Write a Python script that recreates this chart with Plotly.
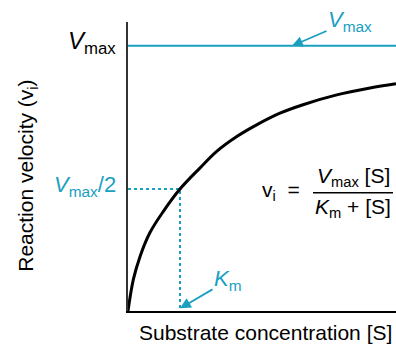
import plotly.graph_objects as go

# Curve (substrate concentration, relative velocity)
s_values = [0.0, 0.2, 0.45, 0.82, 1.32, 1.94, 2.69, 3.31, 4.06, 4.80, 5.67, 6.53, 7.79, 9.03, 10.0]
v_values = [0.0, 0.119, 0.206, 0.296, 0.376, 0.460, 0.540, 0.602, 0.658, 0.702, 0.746, 0.778, 0.815, 0.841, 0.857]

vmax = 1.0
half_v = 0.46
km = 1.94
x_range = [0, 10]
y_range = [0, 1.09]

TEAL = "#1a9fbf"
FONT = "Liberation Sans, Arial, sans-serif"

# plot area in page px: x 128..396, y 22..311.5
PL, PR, PT, PB = 128, 396, 22, 311.5


def px(x):
    return (x - PL) / (PR - PL)


def py(y):
    return (PB - y) / (PB - PT)


fig = go.Figure()

fig.add_trace(go.Scatter(x=x_range, y=[vmax, vmax], mode="lines",
                         line=dict(color=TEAL, width=2), hoverinfo="skip"))
fig.add_trace(go.Scatter(x=[0, km, km], y=[half_v, half_v, 0], mode="lines",
                         line=dict(color=TEAL, width=2, dash="dot"), hoverinfo="skip"))
fig.add_trace(go.Scatter(x=s_values, y=v_values, mode="lines",
                         line=dict(color="black", width=3, shape="spline"), hoverinfo="skip"))

annotations = [
    dict(x=px(118), y=py(46), xref="paper", yref="paper", xanchor="right", yanchor="middle", yshift=3,
         text="<i>V</i><sub>max</sub>", showarrow=False, font=dict(size=24, color="black")),
    dict(x=px(118), y=py(189), xref="paper", yref="paper", xanchor="right", yanchor="middle", yshift=3,
         text="<i>V</i><sub>max</sub>/2", showarrow=False, font=dict(size=22, color=TEAL)),
    dict(x=6.12, y=vmax, xref="x", yref="y", ax=58, ay=-25, text="<i>V</i><sub>max</sub>",
         showarrow=True, arrowhead=2, arrowsize=1.2, arrowwidth=1.8, arrowcolor=TEAL,
         font=dict(size=22, color=TEAL)),
    dict(x=km, y=0.01, xref="x", yref="y", ax=48, ay=-28, text="<i>K</i><sub>m</sub>",
         showarrow=True, arrowhead=2, arrowsize=1.2, arrowwidth=1.8, arrowcolor=TEAL,
         font=dict(size=22, color=TEAL)),
    dict(x=px(302), y=py(193), xref="paper", yref="paper",
         xanchor="right", yanchor="middle", showarrow=False, yshift=2,
         text="v<sub>i</sub>  =", font=dict(size=21, color="black")),
    dict(x=px(353), y=py(177), xref="paper", yref="paper",
         xanchor="center", yanchor="middle", showarrow=False,
         text="<i>V</i><sub>max</sub> [S]", font=dict(size=21, color="black")),
    dict(x=px(353), y=py(208), xref="paper", yref="paper",
         xanchor="center", yanchor="middle", showarrow=False,
         text="<i>K</i><sub>m</sub> + [S]", font=dict(size=21, color="black")),
    dict(x=px(265), y=py(333), xref="paper", yref="paper",
         xanchor="center", yanchor="middle", showarrow=False,
         text="Substrate concentration [S]", font=dict(size=21, color="black")),
    dict(x=px(27), y=py(176), xref="paper", yref="paper",
         xanchor="center", yanchor="middle", showarrow=False, textangle=-90,
         text="Reaction velocity (v<sub>i</sub>)", font=dict(size=21, color="black")),
]

fig.update_layout(
    width=396, height=348,
    margin=dict(l=PL, r=0, t=PT, b=348 - PB),
    paper_bgcolor="white", plot_bgcolor="white",
    showlegend=False,
    font=dict(family=FONT),
    annotations=annotations,
    shapes=[dict(type="line", xref="paper", yref="paper",
                 x0=px(313), x1=px(393), y0=py(193), y1=py(193),
                 line=dict(color="black", width=1.5))],
    xaxis=dict(range=x_range, showgrid=False, zeroline=False, showticklabels=False, ticks="",
               showline=True, linecolor="black", linewidth=2, fixedrange=True),
    yaxis=dict(range=y_range, showgrid=False, zeroline=False, showticklabels=False, ticks="",
               showline=True, linecolor="#333333", linewidth=2, fixedrange=True),
)

fig.write_html("out.html", config={"displayModeBar": False},
               post_script="document.body.style.margin='0';document.body.style.overflow='hidden';")
